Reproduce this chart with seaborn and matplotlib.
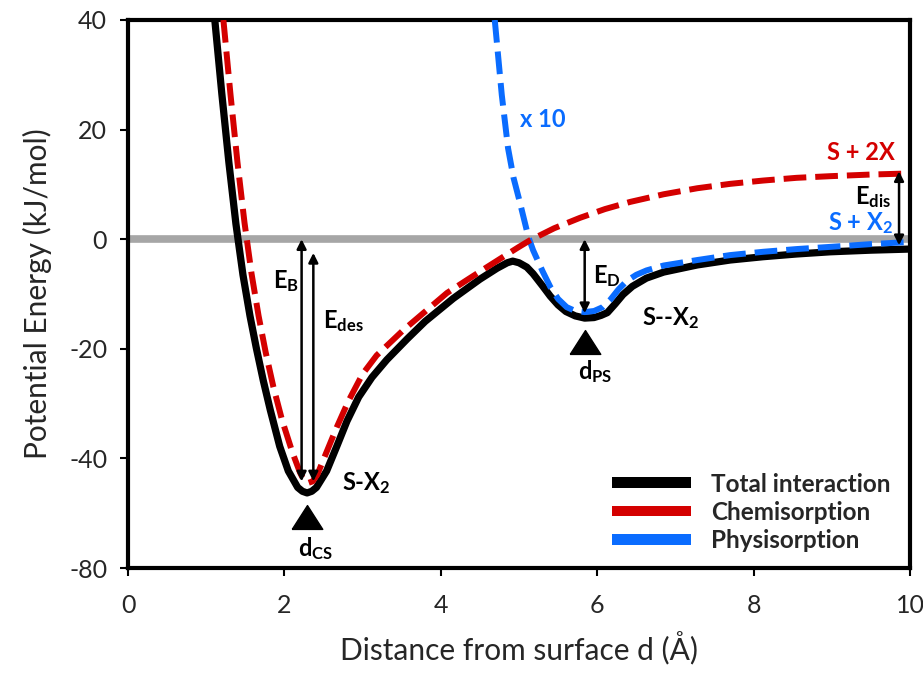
import matplotlib
matplotlib.use("Agg")
import matplotlib.pyplot as plt
import matplotlib.patches as mpatches
import seaborn as sns

# ---------------- data ----------------
total_x = [1.11, 1.20, 1.29, 1.38, 1.47, 1.56, 1.64, 1.73, 1.82, 1.94, 2.05, 2.17, 2.23, 2.29,
           2.35, 2.41, 2.54, 2.67, 2.80, 2.95, 3.12, 3.31, 3.57, 3.80, 4.16, 4.50, 4.72, 4.85,
           4.92, 5.00, 5.10, 5.18, 5.30, 5.40, 5.50, 5.60, 5.72, 5.84, 5.96, 6.05, 6.13,
           6.23, 6.33, 6.45, 6.63, 6.85, 7.28, 7.70, 8.12, 8.55, 8.98, 9.50, 10.0]
total_y = [40, 26.5, 14.0, 2.8, -6.5, -14.0, -19.8, -25.8, -31.2, -37.8, -42.3, -45.3, -46.0, -46.3,
           -46.0, -45.3, -42.3, -37.8, -33.2, -28.8, -25.2, -22.0, -18.2, -15.0, -10.8, -7.3, -5.3, -4.3,
           -4.0, -4.3, -5.1, -6.3, -8.5, -10.4, -12.0, -13.2, -14.0, -14.4, -14.3, -13.9, -13.4,
           -11.8, -10.1, -8.6, -7.1, -6.0, -4.7, -3.8, -3.2, -2.7, -2.3, -2.0, -1.8]

chem_x = [1.22, 1.31, 1.40, 1.49, 1.58, 1.67, 1.76, 1.86, 1.97, 2.10, 2.20, 2.25, 2.30, 2.36,
          2.42, 2.54, 2.67, 2.82, 3.00, 3.18, 3.52, 3.80, 4.08, 4.35, 4.59, 4.80, 5.00, 5.14,
          5.45, 5.78, 6.10, 6.42, 6.85, 7.28, 7.70, 8.12, 8.55, 8.98, 9.50, 10.0]
chem_y = [40, 26.5, 14.0, 3.0, -6.3, -14.0, -20.6, -27.0, -33.0, -38.8, -42.6, -44.0, -44.5, -44.2,
          -43.0, -38.8, -34.3, -29.5, -24.6, -21.2, -16.6, -13.2, -9.8, -7.3, -5.1, -3.2, -1.4, -0.2,
          2.0, 3.9, 5.5, 6.8, 8.2, 9.3, 10.1, 10.7, 11.2, 11.5, 11.8, 12.0]

phys_x = [4.69, 4.78, 4.86, 4.93, 5.01, 5.12, 5.18, 5.30, 5.40, 5.50, 5.61, 5.72, 5.84,
          5.96, 6.07, 6.17, 6.27, 6.38, 6.50, 6.63, 6.85, 7.28, 7.70, 8.12, 8.55, 8.98,
          9.50, 10.0]
phys_y = [40, 26.3, 16.6, 11.2, 6.8, 0.4, -2.0, -5.8, -8.7, -10.9, -12.4, -13.1, -13.3,
          -13.1, -12.4, -11.0, -9.2, -7.6, -6.5, -5.7, -4.8, -3.8, -2.9, -2.3, -1.8, -1.4,
          -0.9, -0.5]

series_names = ["Total interaction", "Chemisorption", "Physisorption"]

xticks = [0, 2, 4, 6, 8, 10]
yticks = [-60, -40, -20, 0, 20, 40]
ytick_labels = ["-80", "-40", "-20", "0", "20", "40"]

# energy arrows: x, start y, end y
arrow_x = [2.22, 2.37, 5.84, 9.86]
arrow_y0 = [0.0, -2.5, 0.0, 12.4]
arrow_y1 = [-44.2, -44.2, -13.5, -1.1]

# equilibrium distance markers
marker_x = [2.29, 5.84]
marker_y = [-50.7, -18.8]

# ---------------- style ----------------
sns.set_style("ticks")
plt.rcParams["font.family"] = ["Lato", "DejaVu Sans"]
plt.rcParams["mathtext.fontset"] = "custom"
plt.rcParams["mathtext.rm"] = "Lato"
plt.rcParams["mathtext.bf"] = "Lato:bold"
plt.rcParams["mathtext.it"] = "Lato:italic"
plt.rcParams["axes.unicode_minus"] = False

BLACK = "#000000"
RED = "#D40000"
BLUE = "#0A6CFF"
GRAY = "#A6A6A6"
dash = (0, (3.8, 1.5))

fig = plt.figure(figsize=(9.23, 6.77), dpi=100)
ax = fig.add_axes([128 / 923, 1 - 568 / 677, 782 / 923, 548 / 677])

ax.axhline(0, color=GRAY, lw=5.5, zorder=1)

sns.lineplot(x=total_x, y=total_y, sort=False, color=BLACK, lw=5.2, ax=ax, zorder=3)
sns.lineplot(x=phys_x, y=phys_y, sort=False, color=BLUE, lw=4.3, linestyle=dash, ax=ax, zorder=4)
sns.lineplot(x=chem_x, y=chem_y, sort=False, color=RED, lw=4.3, linestyle=dash, ax=ax, zorder=5)

for xa, y0, y1 in zip(arrow_x, arrow_y0, arrow_y1):
    ax.annotate("", xy=(xa, y1), xytext=(xa, y0),
                arrowprops=dict(arrowstyle="<|-|>", lw=1.8, color=BLACK,
                                mutation_scale=14, shrinkA=0, shrinkB=0),
                zorder=6)

tri = [(-1, -0.78), (1, -0.78), (0, 0.78), (-1, -0.78)]
ax.plot(marker_x, marker_y, linestyle="none", marker=tri, markersize=22,
        color=BLACK, zorder=6, clip_on=False)

fs = 17
bold = dict(fontsize=fs, fontweight="bold")
ax.text(2.40, -56.4, r"d$_\mathbf{CS}$", ha="center", va="center", color=BLACK, **bold)
ax.text(5.97, -24.2, r"d$_\mathbf{PS}$", ha="center", va="center", color=BLACK, **bold)
ax.text(2.74, -44.5, r"S-X$_\mathbf{2}$", ha="left", va="center", color=BLACK, **bold)
ax.text(6.57, -14.4, r"S--X$_\mathbf{2}$", ha="left", va="center", color=BLACK, **bold)
ax.text(5.01, 21.9, "x 10", ha="left", va="center", color=BLUE, **bold)
ax.text(9.81, 15.9, "S + 2X", ha="right", va="center", color=RED, **bold)
ax.text(9.78, 3.0, r"S + X$_\mathbf{2}$", ha="right", va="center", color=BLUE, **bold)
ax.text(9.76, 7.6, r"E$_\mathbf{dis}$", ha="right", va="center", color=BLACK, **bold)
ax.text(5.95, -6.7, r"E$_\mathbf{D}$", ha="left", va="center", color=BLACK, **bold)
ax.text(1.85, -7.6, r"E$_\mathbf{B}$", ha="left", va="center", color=BLACK, **bold)
ax.text(2.49, -14.9, r"E$_\mathbf{des}$", ha="left", va="center", color=BLACK, **bold)

handles = [mpatches.Patch(facecolor=c, edgecolor="none") for c in (BLACK, RED, BLUE)]
leg = ax.legend(handles, series_names, loc="lower right", bbox_to_anchor=(0.995, 0.0),
                frameon=False, prop=dict(family="Lato", weight="bold", size=17.5),
                handlelength=3.25, handleheight=0.3, handletextpad=0.8,
                labelspacing=0.22, borderpad=0.15)

ax.set_xlim(0, 10)
ax.set_ylim(-60, 40)
ax.set_xticks(xticks)
ax.set_xticklabels([str(t) for t in xticks])
ax.set_yticks(yticks)
ax.set_yticklabels(ytick_labels)
ax.tick_params(axis="both", direction="out", length=6, width=1.5, labelsize=18, color=BLACK)
ax.tick_params(axis="x", pad=13)
ax.tick_params(axis="y", pad=9)
for s in ax.spines.values():
    s.set_visible(True)
    s.set_linewidth(3)
    s.set_color(BLACK)
ax.set_xlabel("Distance from surface d (Å)", fontsize=21.5, labelpad=10)
ax.set_ylabel("Potential Energy (kJ/mol)", fontsize=21.5, labelpad=12)

fig.savefig("out.png", dpi=100)
